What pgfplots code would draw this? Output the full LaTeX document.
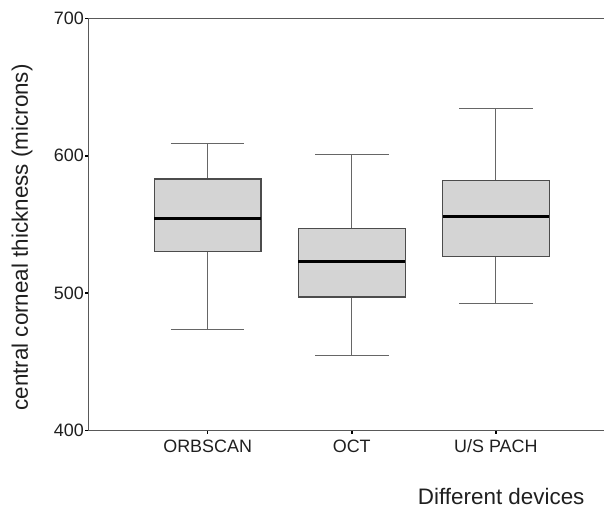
\documentclass[border=0pt]{standalone}
\usepackage{fontspec}
\setmainfont{Liberation Sans}
\usepackage{pgfplots}
\pgfplotsset{compat=1.18}

\begin{document}
\begin{tikzpicture}
\begin{axis}[
    scale only axis,
    width=515.7bp,
    height=412.4bp,
    xmin=0.172, xmax=3.75,
    ymin=400, ymax=700,
    ytick={400,500,600,700},
    xtick={1,2,3},
    xticklabels={ORBSCAN,OCT,U/S PACH},
    axis x line=box,
    axis y line=left,
    axis line style={-, draw=black!65, line width=1.2bp},
    xtick pos=bottom,
    ytick pos=left,
    tick align=outside,
    major tick length=3bp,
    tick style={black, line width=1.5bp},
    /pgf/number format/assume math mode=true,
    tick label style={font=\fontsize{18}{21}\selectfont, text=black!88},
    xticklabel style={yshift=-2.5bp},
    yticklabel style={xshift=2bp},
    ylabel={central corneal thickness (microns)},
    xlabel={Different devices},
    every axis y label/.style={at={(axis description cs:-0.1286,0.4685)}, rotate=90, anchor=center,
        font=\fontsize{22.5}{25}\selectfont, text=black!88},
    every axis x label/.style={at={(axis description cs:0.969,-0.16)}, anchor=east,
        font=\fontsize{22.5}{25}\selectfont, text=black!88},
    whisk/.style={draw=black!60, line width=0.9bp, mark=none},
    boxst/.style={draw=black!70, line width=1.2bp, fill=black!17, mark=none},
    med/.style={draw=black, line width=3bp, mark=none},
]

% ORBSCAN: whiskers 473.8 / 608.6, box 530.5 - 583.1, median 554.5
\addplot[whisk] coordinates {(1,473.8) (1,530.5)};
\addplot[whisk] coordinates {(1,583.1) (1,608.6)};
\addplot[whisk] coordinates {(0.745,473.8) (1.255,473.8)};
\addplot[whisk] coordinates {(0.745,608.6) (1.255,608.6)};
\addplot[boxst] coordinates {(0.63,530.5) (1.37,530.5) (1.37,583.1) (0.63,583.1)} -- cycle;
\addplot[med] coordinates {(0.63,554.5) (1.37,554.5)};

% OCT: whiskers 454.6 / 600.6, box 497.3 - 546.8, median 523
\addplot[whisk] coordinates {(2,454.6) (2,497.3)};
\addplot[whisk] coordinates {(2,546.8) (2,600.6)};
\addplot[whisk] coordinates {(1.745,454.6) (2.255,454.6)};
\addplot[whisk] coordinates {(1.745,600.6) (2.255,600.6)};
\addplot[boxst] coordinates {(1.63,497.3) (2.37,497.3) (2.37,546.8) (1.63,546.8)} -- cycle;
\addplot[med] coordinates {(1.63,523.0) (2.37,523.0)};

% U/S PACH: whiskers 492.4 / 634.7, box 527 - 582.2, median 555.5
\addplot[whisk] coordinates {(3,492.4) (3,527.0)};
\addplot[whisk] coordinates {(3,582.2) (3,634.7)};
\addplot[whisk] coordinates {(2.745,492.4) (3.255,492.4)};
\addplot[whisk] coordinates {(2.745,634.7) (3.255,634.7)};
\addplot[boxst] coordinates {(2.63,527.0) (3.37,527.0) (3.37,582.2) (2.63,582.2)} -- cycle;
\addplot[med] coordinates {(2.63,555.5) (3.37,555.5)};

\end{axis}
\pgfresetboundingbox
\path (-88.3bp,-78.3bp) rectangle (518.7bp,430.7bp);
\end{tikzpicture}
\end{document}
